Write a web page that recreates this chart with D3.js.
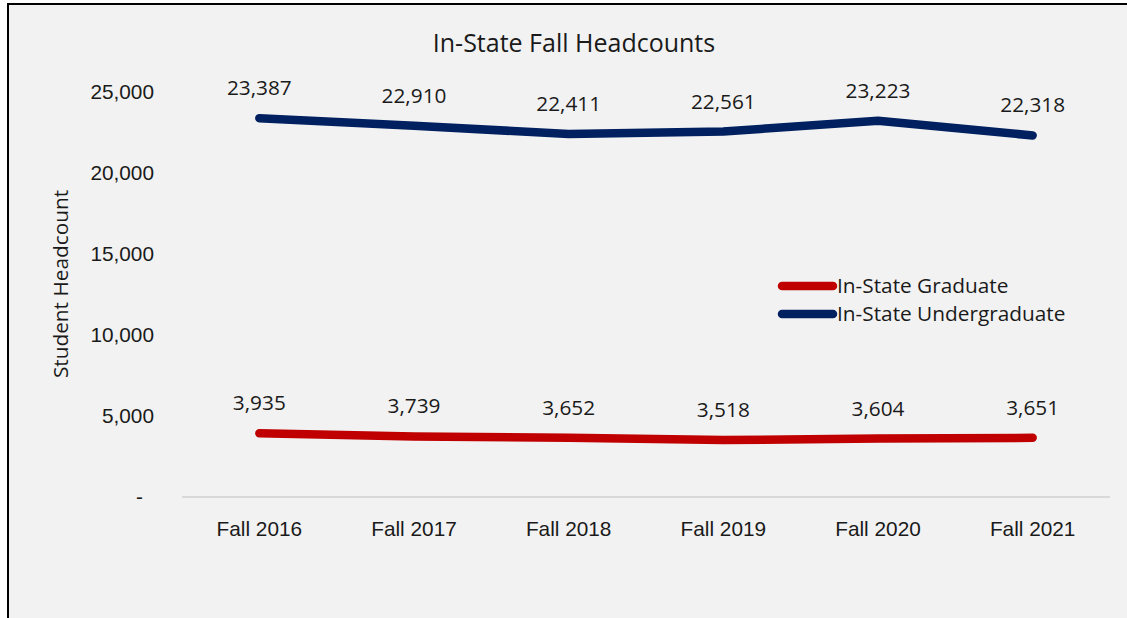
<!DOCTYPE html>
<html>
<head>
<meta charset="utf-8">
<script src="https://cdn.jsdelivr.net/npm/d3@7"></script>
<style>
  html, body { margin: 0; padding: 0; background: #ffffff; }
  svg { display: block; font-family: "Open Sans", "Noto Sans", sans-serif; }
</style>
</head>
<body>
<svg id="chart" width="1127" height="618"></svg>
<script>
// data
const terms = ["Fall 2016", "Fall 2017", "Fall 2018", "Fall 2019", "Fall 2020", "Fall 2021"];
const graduate = [3935, 3739, 3652, 3518, 3604, 3651];
const undergrad = [23387, 22910, 22411, 22561, 23223, 22318];
const yTicks = [0, 5000, 10000, 15000, 20000, 25000];

const seriesList = [
  { name: "In-State Graduate", values: graduate, color: "#c00000" },
  { name: "In-State Undergraduate", values: undergrad, color: "#002060" }
];

const fontSize = 20.8;
const svg = d3.select("#chart");

// chart frame (grey area, black border on top/left; right & bottom are off-page)
svg.append("rect")
  .attr("x", 8).attr("y", 4)
  .attr("width", 2000).attr("height", 2000)
  .attr("fill", "#f2f2f2")
  .attr("stroke", "#000").attr("stroke-width", 2);

const plot = { left: 182, right: 1110, top: 92, bottom: 497 };

const x = d3.scaleBand().domain(terms).range([plot.left, plot.right]);
const y = d3.scaleLinear().domain([0, 25000]).range([plot.bottom, plot.top]);

// title
svg.append("text")
  .attr("x", 574).attr("y", 52)
  .attr("text-anchor", "middle")
  .attr("font-size", 25)
  .attr("fill", "#1a1a1a")
  .text("In-State Fall Headcounts");

// y axis title
svg.append("text")
  .attr("transform", `translate(68, 284) rotate(-90)`)
  .attr("text-anchor", "middle")
  .attr("font-size", fontSize)
  .attr("fill", "#1a1a1a")
  .text("Student Headcount");

// y axis labels (no line, no ticks)
const yAxis = svg.append("g")
  .attr("transform", `translate(${plot.left - 28},0)`)
  .call(d3.axisLeft(y).tickValues(yTicks).tickSize(0)
    .tickFormat(d => d === 0 ? "-" : d3.format(",")(d)));
yAxis.select(".domain").remove();
yAxis.selectAll("text")
  .attr("font-family", "inherit")
  .attr("font-size", fontSize)
  .attr("fill", "#1a1a1a")
  .attr("x", d => d === 0 ? -11 : 0);

// baseline
svg.append("line")
  .attr("x1", plot.left).attr("x2", plot.right)
  .attr("y1", y(0)).attr("y2", y(0))
  .attr("stroke", "#d9d9d9").attr("stroke-width", 2);

// x axis labels
const xAxis = svg.append("g")
  .attr("transform", `translate(0,${plot.bottom + 21})`)
  .call(d3.axisBottom(x).tickSize(0));
xAxis.select(".domain").remove();
xAxis.selectAll("text")
  .attr("font-family", "inherit")
  .attr("font-size", fontSize)
  .attr("fill", "#1a1a1a");

// lines
const line = d3.line()
  .x((d, i) => x(terms[i]) + x.bandwidth() / 2)
  .y(d => y(d));

seriesList.forEach(s => {
  svg.append("path")
    .datum(s.values)
    .attr("d", line)
    .attr("fill", "none")
    .attr("stroke", s.color)
    .attr("stroke-width", 8.5)
    .attr("stroke-linecap", "round")
    .attr("stroke-linejoin", "round");

  svg.append("g").selectAll("text")
    .data(s.values)
    .join("text")
    .attr("x", (d, i) => x(terms[i]) + x.bandwidth() / 2)
    .attr("y", d => y(d) - 23)
    .attr("text-anchor", "middle")
    .attr("font-size", fontSize)
    .attr("fill", "#1a1a1a")
    .text(d => d3.format(",")(d));
});

// legend
const legend = svg.append("g").attr("transform", "translate(778,286)");
seriesList.forEach((s, i) => {
  const g = legend.append("g").attr("transform", `translate(0,${i * 28})`);
  g.append("line")
    .attr("x1", 4).attr("x2", 55)
    .attr("stroke", s.color).attr("stroke-width", 8.5)
    .attr("stroke-linecap", "round");
  g.append("text")
    .attr("x", 59).attr("y", 7)
    .attr("font-size", fontSize)
    .attr("fill", "#1a1a1a")
    .text(s.name);
});
</script>
</body>
</html>
